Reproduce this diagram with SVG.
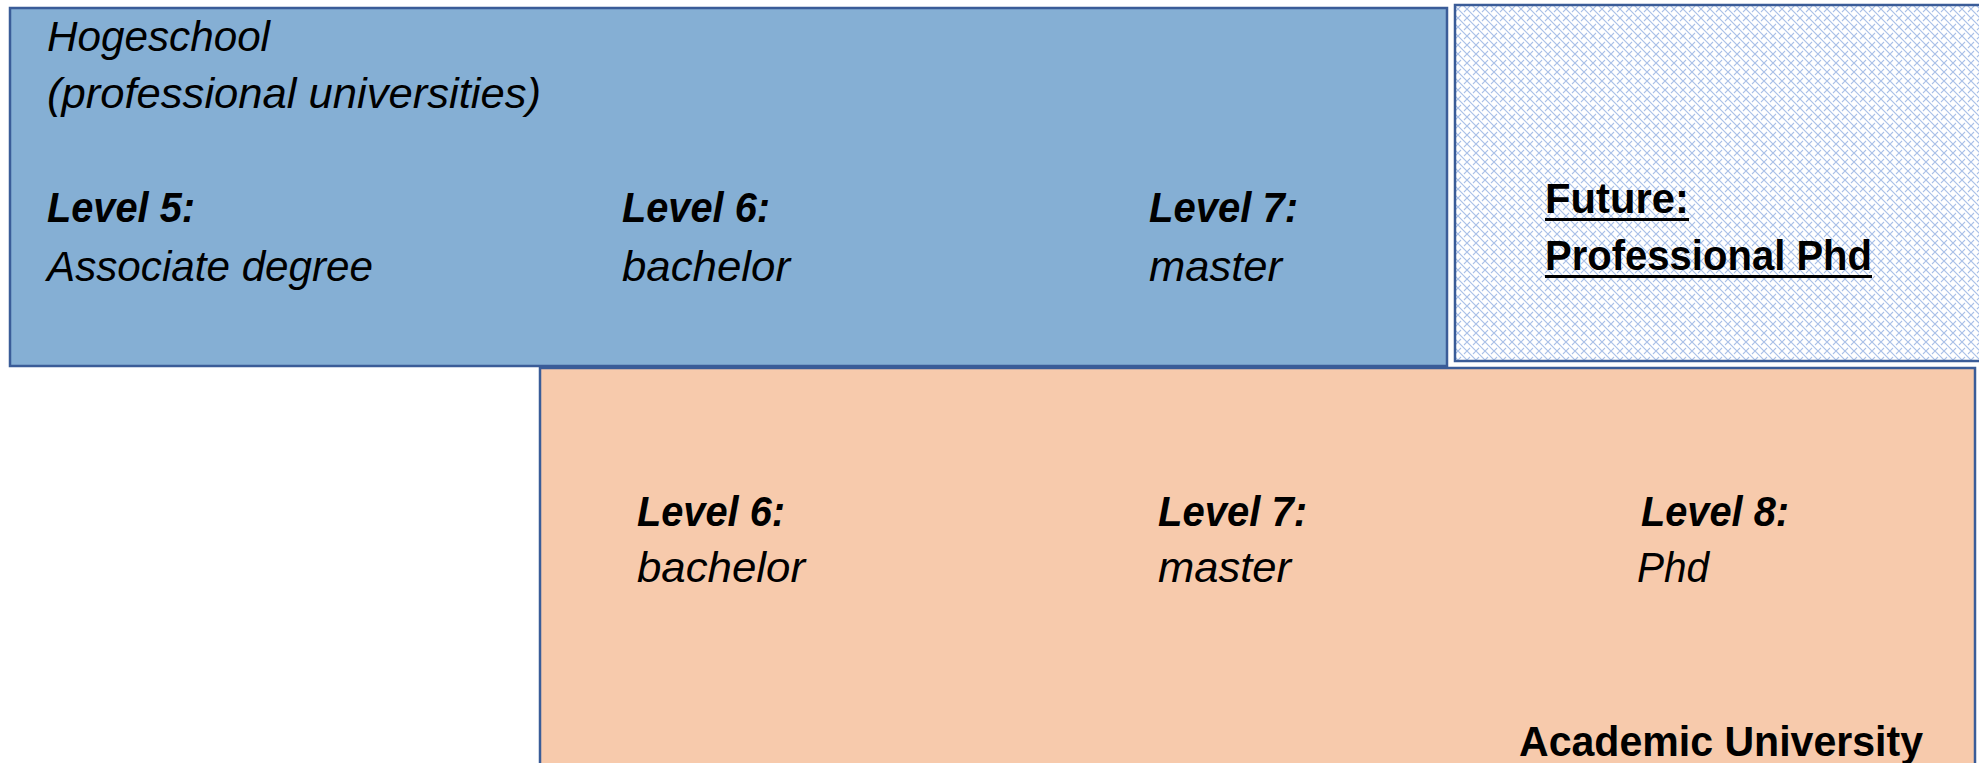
<svg xmlns="http://www.w3.org/2000/svg" width="1979" height="763" viewBox="0 0 1979 763">
  <style>
    .t { font-family: "Liberation Sans", Arial, sans-serif; font-size: 42px; fill: #000; }
    .i { font-style: italic; }
    .bi { font-style: italic; font-weight: bold; }
    .b { font-weight: bold; }
    .box { stroke: #3A5C98; stroke-width: 2.5; }
  </style>
  <defs>
    <pattern id="hatch" patternUnits="userSpaceOnUse" width="9" height="9">
      <rect width="9" height="9" fill="#ffffff"/>
      <path d="M0,0 L9,9 M-1,8 L1,10 M8,-1 L10,1" stroke="#A9C0E8" stroke-width="1.2"/>
      <path d="M0,9 L3,6 M6,3 L9,0" stroke="#A9C0E8" stroke-width="1.1"/>
    </pattern>
  </defs>

  <rect width="1979" height="763" fill="#ffffff"/>

  <g id="hogeschool">
    <rect class="box" x="10" y="8" width="1437" height="358" fill="#85AFD4"/>
    <text class="t i" x="47" y="51" textLength="223" lengthAdjust="spacingAndGlyphs">Hogeschool</text>
    <text class="t i" x="47" y="108" textLength="494" lengthAdjust="spacingAndGlyphs">(professional universities)</text>
    <text class="t bi" x="47" y="222" textLength="148" lengthAdjust="spacingAndGlyphs">Level 5:</text>
    <text class="t i" x="47" y="281" textLength="326" lengthAdjust="spacingAndGlyphs">Associate degree</text>
    <text class="t bi" x="622" y="222" textLength="148" lengthAdjust="spacingAndGlyphs">Level 6:</text>
    <text class="t i" x="622" y="281" textLength="168" lengthAdjust="spacingAndGlyphs">bachelor</text>
    <text class="t bi" x="1149" y="222" textLength="149" lengthAdjust="spacingAndGlyphs">Level 7:</text>
    <text class="t i" x="1149" y="281" textLength="133" lengthAdjust="spacingAndGlyphs">master</text>
  </g>

  <g id="future">
    <rect class="box" x="1455" y="5" width="540" height="356" fill="url(#hatch)" stroke-width="3"/>
    <text class="t b" x="1545" y="213" textLength="144" lengthAdjust="spacingAndGlyphs">Future:</text>
    <line x1="1545" y1="219.5" x2="1689" y2="219.5" stroke="#000" stroke-width="3"/>
    <text class="t b" x="1545" y="270" textLength="327" lengthAdjust="spacingAndGlyphs">Professional Phd</text>
    <line x1="1545" y1="276.5" x2="1872" y2="276.5" stroke="#000" stroke-width="3"/>
  </g>

  <g id="academic">
    <rect class="box" x="540" y="368" width="1435" height="410" fill="#F7CAAC"/>
    <text class="t bi" x="637" y="526" textLength="148" lengthAdjust="spacingAndGlyphs">Level 6:</text>
    <text class="t i" x="637" y="582" textLength="168" lengthAdjust="spacingAndGlyphs">bachelor</text>
    <text class="t bi" x="1158" y="526" textLength="149" lengthAdjust="spacingAndGlyphs">Level 7:</text>
    <text class="t i" x="1158" y="582" textLength="133" lengthAdjust="spacingAndGlyphs">master</text>
    <text class="t bi" x="1641" y="526" textLength="148" lengthAdjust="spacingAndGlyphs">Level 8:</text>
    <text class="t i" x="1637" y="582" textLength="72" lengthAdjust="spacingAndGlyphs">Phd</text>
    <text class="t b" x="1519" y="756" textLength="404" lengthAdjust="spacingAndGlyphs">Academic University</text>
  </g>

  <g id="connectors"/>
</svg>
